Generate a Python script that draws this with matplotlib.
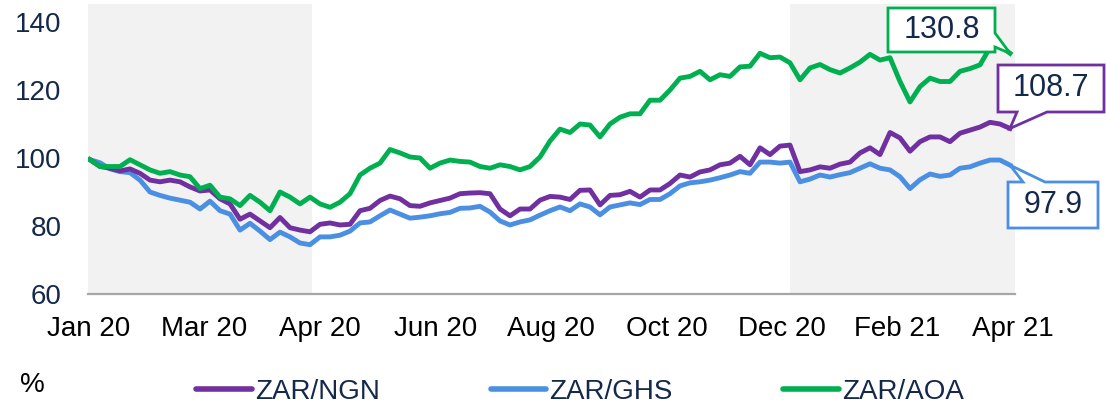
import matplotlib
matplotlib.use("Agg")
import matplotlib.pyplot as plt
from matplotlib.lines import Line2D
from matplotlib.patches import Polygon
from matplotlib.transforms import IdentityTransform
import numpy as np

plt.rcParams['font.family'] = ['Liberation Sans', 'DejaVu Sans']

tick_labels = ['Jan 20', 'Mar 20', 'Apr 20', 'Jun 20', 'Aug 20', 'Oct 20',
               'Dec 20', 'Feb 21', 'Apr 21']
series_names = ['ZAR/NGN', 'ZAR/GHS', 'ZAR/AOA']

zar_aoa = [99.5, 97.5, 97.5, 97.5, 99.5, 98, 96.5, 95.5, 96, 95, 94.5, 91, 92, 88.5,
           88, 86, 89, 87, 84.5, 90, 88.5, 86.5, 88.5, 86.5,
           85.5, 87, 89.5, 95, 97, 98.5, 102.5, 101.5, 100.3, 100, 97, 98.5, 99.4,
           99, 98.8, 97.5, 97, 98, 97.5, 96.5, 97.5, 100.3, 105, 108.5,
           107.5, 110, 109.7, 106.2, 110, 112, 113, 113, 117, 117, 120, 123.5, 124,
           125.5, 123, 124.5, 124, 126.8, 127, 130.8, 129.5, 129.7, 128,
           123, 126.5, 127.5, 126, 125, 126.5, 128.2, 130.5, 128.8, 129.5, 122.5,
           116.5, 121, 123.5, 122.5, 122.5, 125.5, 126.3, 127.4, 132.5, 133, 130.8]

zar_ngn = [99.5, 97.5, 97, 96.2, 96.8, 95.5, 93.5, 93, 93.5, 93, 91.5, 90.3, 90.6, 88,
           86.5, 82, 83.5, 81.5, 79.5, 82.5, 79.5, 78.8, 78.3, 80.5,
           80.9, 80.3, 80.5, 84.5, 85.2, 87.5, 88.8, 88, 86, 85.8, 86.8, 87.5, 88.2,
           89.5, 89.7, 89.8, 89.5, 85, 83, 85, 85, 87.6, 88.7, 88.5,
           87.8, 90.5, 90.6, 86.2, 89, 89.2, 90.2, 88.5, 90.6, 90.6, 92.5, 95, 94.4,
           95.9, 96.5, 98, 98.5, 100.5, 98, 103, 101, 103.5, 103.8,
           96, 96.5, 97.4, 97, 98.2, 98.8, 101.5, 103, 101, 107.5, 105.9, 102, 104.8,
           106.2, 106.2, 104.8, 107.3, 108.2, 109.1, 110.5, 110, 108.7]

zar_ghs = [99.5, 98.6, 96.8, 96, 95.7, 93.5, 90, 89, 88.2, 87.6, 87, 85, 87.3, 84.5,
           83.5, 78.8, 80.8, 78.5, 76, 78.2, 76.8, 75, 74.5, 76.8,
           76.8, 77.3, 78.5, 80.9, 81.2, 83, 84.7, 83.5, 82.3, 82.6, 83, 83.6, 84,
           85.2, 85.3, 85.8, 84.1, 81.5, 80.3, 81.2, 81.8, 83.2, 84.5, 85.6,
           84.5, 86.5, 85.6, 83.3, 85.6, 86.2, 86.8, 86.3, 87.8, 87.8, 89.5, 91.8,
           92.7, 93, 93.5, 94.2, 95, 96, 95.5, 98.8, 98.8, 98.5, 98.8,
           93, 93.8, 95, 94.4, 95.1, 95.7, 97, 98.3, 97, 96.5, 94.5, 91, 93.6, 95.3,
           94.6, 95, 97, 97.4, 98.5, 99.4, 99.4, 97.9]

c_ngn = '#7030A0'
c_ghs = '#4A8FE2'
c_aoa = '#00B050'
navy = '#14284B'

W, H = 1106, 408
fig = plt.figure(figsize=(W / 100, H / 100), dpi=100)
# axes in reference pixel coords: x 88..1015, y 4..294
ax = fig.add_axes([88 / W, 1 - 294 / H, (1015 - 88) / W, (294 - 4) / H])

n = len(zar_aoa)
x = np.arange(n)
ax.set_xlim(-0.2, n - 1 + 0.5)
ax.set_ylim(60, 145.3)

# shaded periods
ax.axvspan(-0.2, 22.2, color='#F2F2F2', zorder=0, lw=0)
ax.axvspan(70.0, n - 1 + 0.5, color='#F2F2F2', zorder=0, lw=0)

lw = 3.5
ax.plot(x, zar_ghs, color=c_ghs, lw=lw, zorder=2, solid_joinstyle='round')
ax.plot(x, zar_ngn, color=c_ngn, lw=lw, zorder=3, solid_joinstyle='round')
ax.plot(x, zar_aoa, color=c_aoa, lw=lw, zorder=4, solid_joinstyle='round')

for s in ['top', 'right', 'left']:
    ax.spines[s].set_visible(False)
ax.spines['bottom'].set_color('#A6A6A6')
ax.spines['bottom'].set_linewidth(1.6)

ax.set_yticks([60, 80, 100, 120, 140])
ax.tick_params(axis='y', length=0, pad=19, labelsize=20, labelcolor=navy)
ax.set_xticks(np.linspace(-0.1, n - 1 + 0.3, len(tick_labels)))
ax.set_xticklabels(tick_labels)
ax.tick_params(axis='x', length=0, pad=16, labelsize=20, labelcolor='black')

# legend
handles = [Line2D([], [], color=c, lw=4, solid_capstyle='round')
           for c in (c_ngn, c_ghs, c_aoa)]
leg = fig.legend(handles, series_names, loc='center', ncol=3,
                 bbox_to_anchor=(580 / W, 1 - 392 / H), frameon=False,
                 fontsize=20, handlelength=2.0, handletextpad=0.1,
                 columnspacing=4.0)
for t in leg.get_texts():
    t.set_color(navy)

fig.text(20 / W, 1 - 385 / H, '%', fontsize=20, color='black',
         ha='left', va='center')

# callouts (box in reference pixel coords, tip at last data point)
def to_disp(px, py):
    return (px, H - py)

def callout(box, base, side, series, color, label):
    x0, y0, x1, y1 = box
    tip = ax.transData.transform((n - 1, series[-1]))
    b1, b2 = base
    if side == 'right':
        pts = [(x0, y0), (x1, y0), (x1, b1), None, (x1, b2), (x1, y1), (x0, y1)]
    elif side == 'bottom':
        pts = [(x0, y0), (x1, y0), (x1, y1), (b2, y1), None, (b1, y1), (x0, y1)]
    else:  # top
        pts = [(x0, y0), (b1, y0), None, (b2, y0), (x1, y0), (x1, y1), (x0, y1)]
    verts = []
    for p in pts:
        if p is None:
            verts.append(tuple(tip))
        else:
            verts.append(to_disp(*p))
    poly = Polygon(verts, closed=True, fc='white', ec=color, lw=2.0,
                   transform=IdentityTransform(), zorder=10, joinstyle='miter')
    fig.add_artist(poly)
    cx, cy = (x0 + x1) / 2, (y0 + y1) / 2
    fig.text(cx / W, 1 - cy / H, label, fontsize=22, color=navy,
             ha='center', va='center', zorder=11)

callout((888, 8, 995, 52), (33, 47), 'right', zar_aoa, c_aoa,
        f'{zar_aoa[-1]:.1f}')
callout((998, 65, 1104, 112), (1017, 1047), 'bottom', zar_ngn, c_ngn,
        f'{zar_ngn[-1]:.1f}')
callout((1008, 182, 1098, 228), (1023, 1045), 'top', zar_ghs, c_ghs,
        f'{zar_ghs[-1]:.1f}')

fig.savefig('out.png', dpi=100)
